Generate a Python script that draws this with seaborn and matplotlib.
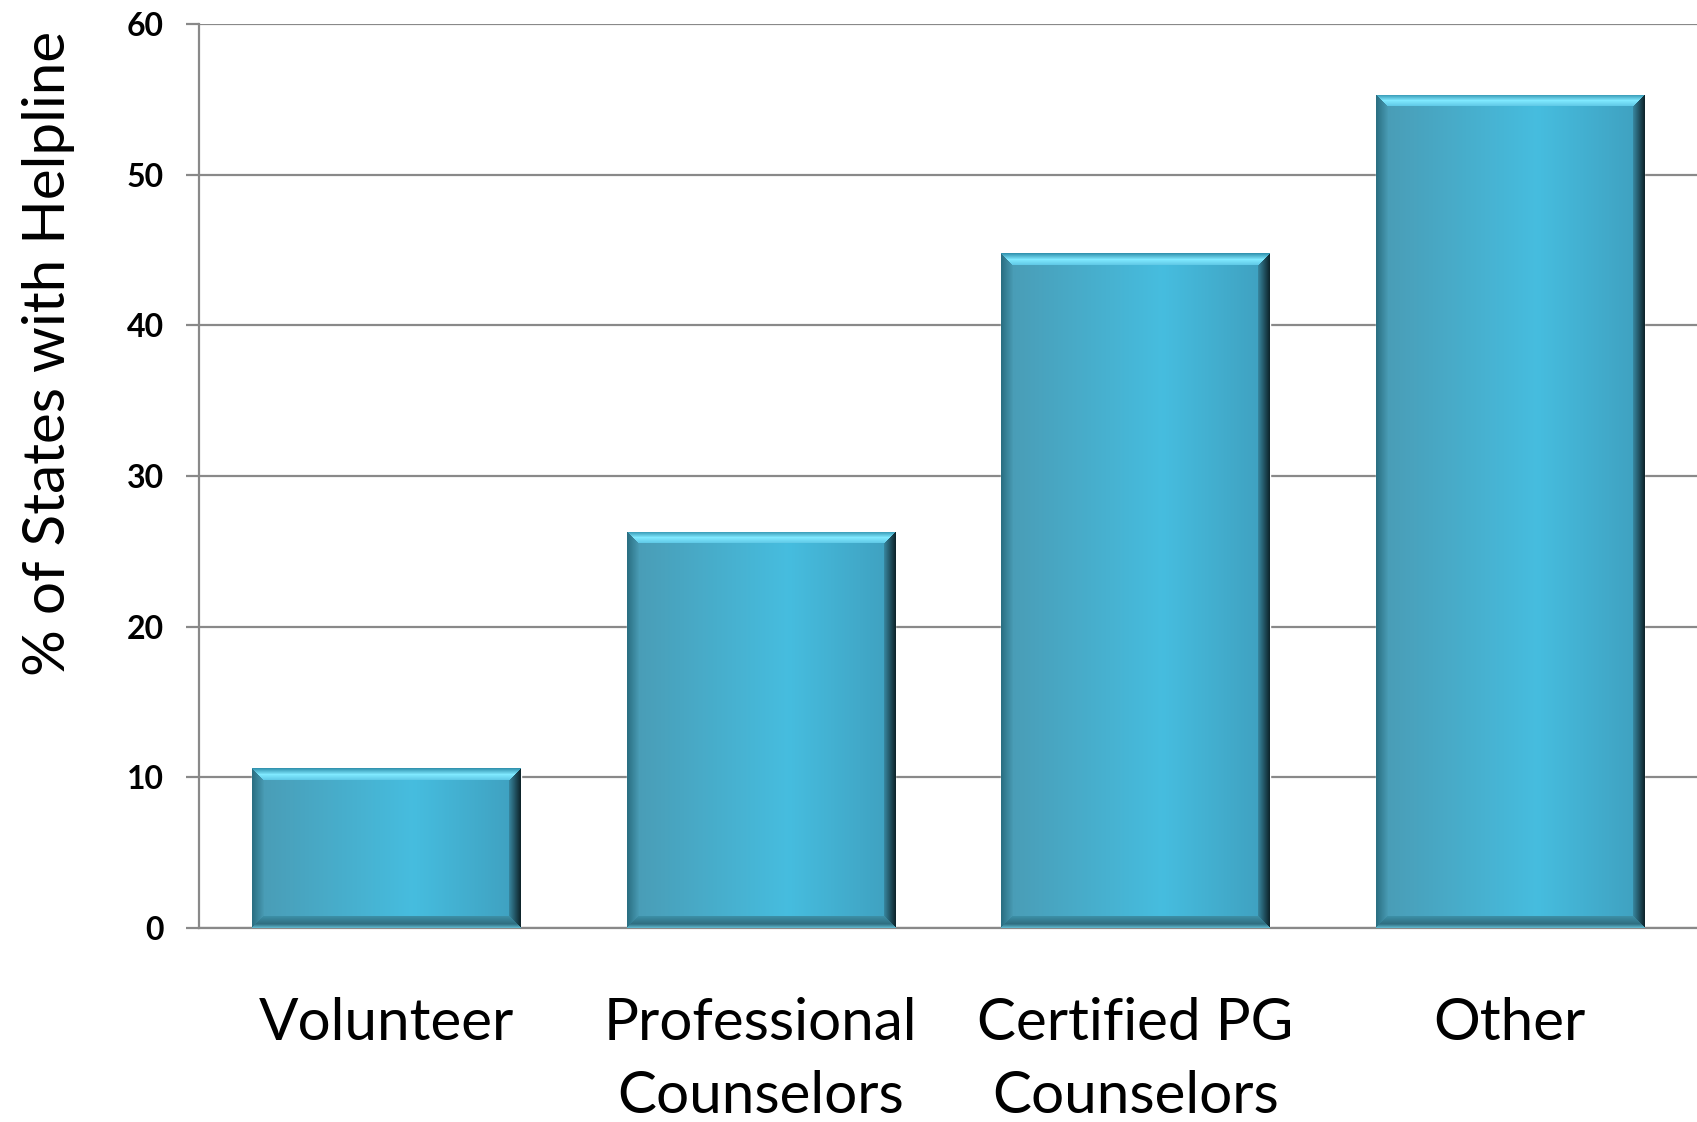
import numpy as np
import matplotlib
matplotlib.use("Agg")
import matplotlib.pyplot as plt
import seaborn as sns
from matplotlib.colors import to_rgb

# chart data
categories = ["Volunteer", "Professional\nCounselors", "Certified PG\nCounselors", "Other"]
pct_states = [10.6, 26.3, 44.8, 55.3]
y_ticks = [0, 10, 20, 30, 40, 50, 60]

sns.set_theme(style="white")
plt.rcParams['font.family'] = ['Lato', 'DejaVu Sans']

GRID = "#898989"


def lerp(c0, c1, t):
    c0 = np.array(to_rgb(c0))
    c1 = np.array(to_rgb(c1))
    t = np.asarray(t)[..., None]
    return c0 * (1 - t) + c1 * t


def bevel_image(w, h, b=12):
    """Build a beveled, horizontally shaded bar image of w x h pixels."""
    xs = np.linspace(0, 1, w)
    body = np.where(xs[:, None] < 0.6,
                    lerp("#4A9BB4", "#46BDDF", np.clip(xs / 0.6, 0, 1)),
                    lerp("#46BDDF", "#3F9FBE", np.clip((xs - 0.6) / 0.4, 0, 1)))
    img = np.tile(body[None, :, :], (h, 1, 1))
    ii, jj = np.mgrid[0:h, 0:w]
    dt, db, dl, dr = ii, h - 1 - ii, jj, w - 1 - jj
    d = np.minimum(np.minimum(dt, db), np.minimum(dl, dr))
    inside = d < b
    side = np.argmin(np.stack([dt, db, dl, dr]), axis=0)
    f = np.clip(d / b, 0, 1)
    top = np.where(f[..., None] < 0.5, lerp("#3394B0", "#80E9FF", f * 2),
                   lerp("#80E9FF", "#5CC6E4", (f - 0.5) * 2))
    bot = np.where(f[..., None] < 0.3, lerp("#5BB3C9", "#2F6E80", f / 0.3),
                   lerp("#2F6E80", "#3E93AB", (f - 0.3) / 0.7))
    lef = lerp("#2A6F82", "#4A9DB6", f)
    rig = lerp("#0E252C", "#3A8CA6", f)
    for k, arr in enumerate([top, bot, lef, rig]):
        m = inside & (side == k)
        img[m] = arr[m]
    return np.clip(img, 0, 1)


fig = plt.figure(figsize=(16.97, 11.22), dpi=100)
ax = fig.add_axes([0.1173, 0.1729, 0.8827, 0.8057])

sns.barplot(x=categories, y=pct_states, ax=ax, color="#45BBDB",
            width=0.717, saturation=1, zorder=2)

ax.set_ylim(0, 60)
ax.set_xlim(-0.5, len(categories) - 0.5)

# gradient/bevel fill on top of each bar
for patch in ax.patches:
    x0, y0 = patch.get_x(), patch.get_y()
    x1, y1 = x0 + patch.get_width(), y0 + patch.get_height()
    (px0, py0), (px1, py1) = ax.transData.transform([(x0, y0), (x1, y1)])
    w_px, h_px = max(int(round(px1 - px0)), 2), max(int(round(py1 - py0)), 2)
    im = ax.imshow(bevel_image(w_px, h_px), extent=(x0, x1, y0, y1),
                   aspect='auto', origin='upper', zorder=3, interpolation='nearest')
    im.set_clip_path(patch)

ax.set_ylim(0, 60)
ax.set_xlim(-0.5, len(categories) - 0.5)
ax.set_yticks(y_ticks)
ax.yaxis.grid(True, color=GRID, lw=1.6)
ax.set_axisbelow(True)

for s in ["top", "right"]:
    ax.spines[s].set_visible(False)
for s in ["left", "bottom"]:
    ax.spines[s].set_color(GRID)
    ax.spines[s].set_linewidth(1.6)

ax.tick_params(axis='y', left=True, length=9.5, width=1.6, color=GRID,
               pad=16, labelsize=23, labelcolor="black")
ax.tick_params(axis='x', bottom=False, pad=44, labelsize=42, labelcolor="black")
for lab in ax.get_yticklabels():
    lab.set_fontweight('bold')
for lab in ax.get_xticklabels():
    lab.set_linespacing(1.45)

ax.set_xlabel("")
ax.set_ylabel("% of States with Helpline", fontsize=42, color="black")
ax.yaxis.set_label_coords(-0.083, 0.636)

fig.savefig("out.png", dpi=100)
